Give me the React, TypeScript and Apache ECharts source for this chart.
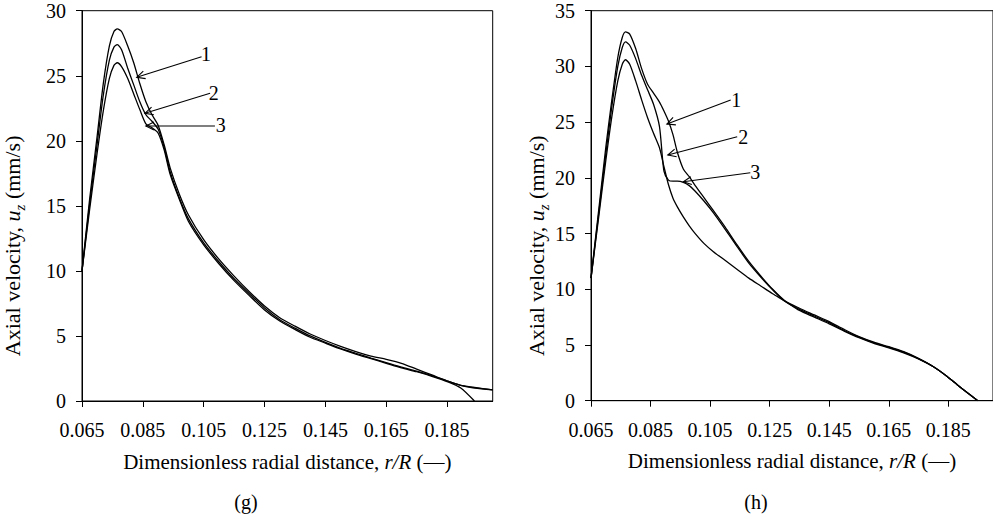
import React, { useEffect, useRef } from "react";
import * as echarts from "echarts";

// ---------- data ----------
const xTickValues = [0.065, 0.085, 0.105, 0.125, 0.145, 0.165, 0.185];

// panel (g)
const rG = [0.065, 0.0675, 0.07, 0.072, 0.074, 0.0755, 0.0766, 0.078, 0.08, 0.082, 0.084, 0.086, 0.088, 0.09, 0.092, 0.094, 0.097, 0.1, 0.105, 0.11, 0.115, 0.12, 0.125, 0.13, 0.135, 0.14, 0.145, 0.15, 0.155, 0.16, 0.165, 0.17, 0.175, 0.18, 0.1855, 0.1895, 0.194, 0.2];
const g1 = [10, 15.5, 20.4, 24.4, 27.3, 28.4, 28.6, 28.4, 27.3, 26.0, 24.4, 23.0, 22.0, 21.2, 19.7, 17.9, 15.9, 14.3, 12.4, 10.9, 9.6, 8.4, 7.3, 6.4, 5.75, 5.15, 4.65, 4.2, 3.8, 3.45, 3.2, 2.9, 2.45, 2.0, 1.5, 1.2, 1.05, 0.85];
const g2 = [10, 15.1, 19.8, 23.5, 26.2, 27.2, 27.4, 27.0, 25.6, 24.3, 23.0, 22.0, 21.5, 20.9, 19.5, 17.6, 15.6, 14.0, 12.15, 10.7, 9.4, 8.25, 7.15, 6.25, 5.6, 5.0, 4.5, 4.05, 3.67, 3.3, 2.95, 2.6, 2.3, 1.95, 1.5, 1.2, 1.0, 0.85];
const g3 = [10, 14.7, 19.1, 22.3, 24.8, 25.8, 26.0, 25.7, 24.8, 23.6, 22.4, 21.3, 21.0, 20.6, 19.3, 17.4, 15.5, 13.8, 12.0, 10.55, 9.25, 8.1, 7.0, 6.15, 5.5, 4.9, 4.45, 4.0, 3.6, 3.25, 2.9, 2.55, 2.25, 1.9, 1.45, 1.0, 0, null];

// panel (h)
const rH = [0.065, 0.0675, 0.07, 0.072, 0.074, 0.0755, 0.0766, 0.078, 0.08, 0.082, 0.084, 0.086, 0.088, 0.0895, 0.091, 0.0925, 0.094, 0.096, 0.098, 0.1, 0.103, 0.106, 0.11, 0.114, 0.118, 0.122, 0.126, 0.13, 0.135, 0.14, 0.145, 0.15, 0.155, 0.16, 0.165, 0.17, 0.175, 0.18, 0.1845, 0.1888, 0.1949];
const h1 = [11, 16.9, 22.8, 27.0, 30.8, 32.6, 33.1, 32.9, 31.6, 29.8, 28.4, 27.6, 26.8, 26.0, 25.1, 23.9, 22.3, 20.8, 20.1, 19.3, 18.2, 17.1, 15.6, 14.0, 12.5, 11.2, 10.0, 9.0, 8.3, 7.7, 7.1, 6.4, 5.75, 5.25, 4.85, 4.4, 3.8, 3.05, 2.2, 1.25, 0];
const h2 = [11, 16.6, 22.2, 26.4, 30.0, 31.7, 32.2, 31.9, 30.7, 29.2, 27.9, 26.6, 24.6, 20.6, 19.8, 19.7, 19.7, 19.6, 19.3, 18.8, 17.9, 16.9, 15.4, 13.85, 12.35, 11.1, 9.95, 8.95, 8.2, 7.6, 7.0, 6.3, 5.7, 5.2, 4.8, 4.35, 3.75, 3.05, 2.2, 1.25, 0];
const h3 = [11, 16.3, 21.6, 25.5, 28.7, 30.2, 30.6, 30.2, 28.7, 27.0, 25.4, 24.0, 22.7, 21.0, 19.4, 18.2, 17.4, 16.5, 15.7, 15.0, 14.1, 13.4, 12.6, 11.8, 11.0, 10.3, 9.6, 8.95, 8.1, 7.5, 6.9, 6.25, 5.65, 5.15, 4.75, 4.3, 3.75, 3.05, 2.2, 1.25, 0];

// annotation arrows: [tailX, tailY, headX, headY] in data units
const arrowsG = [
  [0.1043, 26.46, 0.083, 24.88],
  [0.1071, 23.65, 0.0857, 22.11],
  [0.1087, 21.14, 0.086, 21.14],
];
const labelNames = ["1", "2", "3"];
const labelPosG = [
  [0.1058, 26.7],
  [0.1083, 23.7],
  [0.1106, 21.18],
];
const arrowsH = [
  [0.1119, 26.99, 0.0905, 24.83],
  [0.1141, 23.69, 0.0908, 22.05],
  [0.1185, 20.46, 0.096, 19.65],
];
const labelPosH = [
  [0.1138, 26.99],
  [0.1161, 23.67],
  [0.1202, 20.48],
];

const panelLetters = ["(g)", "(h)"];

// ---------- styling ----------
const FONT = "'Liberation Serif', 'Times New Roman', serif";
const BLACK = "#000";

function pairs(xs: number[], ys: (number | null)[]) {
  const out: number[][] = [];
  xs.forEach((x, i) => {
    const y = ys[i];
    if (y !== null && y !== undefined) out.push([x, y]);
  });
  return out;
}

function xAxisFor(gridIndex: number) {
  return {
    type: "value",
    gridIndex,
    min: 0.065,
    max: 0.2,
    interval: 0.02,
    name: "Dimensionless radial distance, {i|r/R} (—)",
    nameLocation: "middle",
    nameGap: 50,
    nameTextStyle: {
      fontFamily: FONT,
      fontSize: 21,
      color: BLACK,
      rich: { i: { fontFamily: FONT, fontSize: 21, fontStyle: "italic", color: BLACK } },
    },
    axisLine: { show: true, lineStyle: { color: BLACK, width: 1 } },
    axisTick: { show: true, length: 6, lineStyle: { color: BLACK }, customValues: xTickValues },
    axisLabel: {
      margin: 19,
      fontFamily: FONT,
      fontSize: 20,
      color: BLACK,
      customValues: xTickValues,
      formatter: (v: number) => v.toFixed(3),
    },
    splitLine: { show: false },
  };
}

function yAxisFor(gridIndex: number, max: number) {
  return {
    type: "value",
    gridIndex,
    min: 0,
    max,
    interval: 5,
    name: "Axial velocity, {i|u}{s|z} (mm/s)",
    nameLocation: "middle",
    nameGap: gridIndex === 0 ? 55 : 40,
    nameTextStyle: {
      fontFamily: FONT,
      fontSize: 22,
      color: BLACK,
      padding: [0, 80, 0, 0],
      rich: {
        i: { fontFamily: FONT, fontSize: 22, fontStyle: "italic", color: BLACK },
        s: { fontFamily: FONT, fontSize: 15, fontStyle: "italic", color: BLACK, padding: [14, 0, 0, 0] },
      },
    },
    axisLine: { show: true, lineStyle: { color: BLACK, width: 1 } },
    axisTick: { show: true, length: 6, lineStyle: { color: BLACK } },
    axisLabel: { margin: 16, fontFamily: FONT, fontSize: 20, color: BLACK },
    splitLine: { show: false },
  };
}

function lineSeries(name: string, idx: number, data: number[][]) {
  return {
    name,
    type: "line",
    xAxisIndex: idx,
    yAxisIndex: idx,
    data,
    showSymbol: false,
    symbol: "none",
    smooth: 0.25,
    lineStyle: { color: BLACK, width: 1.3 },
    z: 3,
  };
}

export default function App() {
  const ref = useRef<HTMLDivElement>(null);

  useEffect(() => {
    if (!ref.current) return;
    const chart = echarts.init(ref.current, null, { renderer: "svg" });

    const option: any = {
      animation: false,
      backgroundColor: "#fff",
      grid: [
        { left: 82, top: 10.7, width: 410.7, height: 390.3, show: true, borderColor: BLACK, borderWidth: 1, backgroundColor: "transparent" },
        { left: 591, top: 10.7, width: 409.7, height: 390, show: true, borderColor: BLACK, borderWidth: 1, backgroundColor: "transparent" },
      ],
      xAxis: [xAxisFor(0), xAxisFor(1)],
      yAxis: [yAxisFor(0, 30), yAxisFor(1, 35)],
      series: [
        lineSeries("g1", 0, pairs(rG, g1)),
        lineSeries("g2", 0, pairs(rG, g2)),
        lineSeries("g3", 0, pairs(rG, g3)),
        lineSeries("h1", 1, pairs(rH, h1)),
        lineSeries("h2", 1, pairs(rH, h2)),
        lineSeries("h3", 1, pairs(rH, h3)),
      ],
    };
    chart.setOption(option);

    const graphics: any[] = [];
    const addArrows = (gridIndex: number, arrows: number[][], labels: number[][]) => {
      arrows.forEach((a, k) => {
        const t = chart.convertToPixel({ gridIndex } as any, [a[0], a[1]]) as number[];
        const h = chart.convertToPixel({ gridIndex } as any, [a[2], a[3]]) as number[];
        const dx = t[0] - h[0];
        const dy = t[1] - h[1];
        const len = Math.hypot(dx, dy) || 1;
        const ux = dx / len;
        const uy = dy / len;
        const ang = (26 * Math.PI) / 180;
        const al = 9;
        const rot = (s: number) => [
          h[0] + al * (ux * Math.cos(s * ang) - uy * Math.sin(s * ang)),
          h[1] + al * (ux * Math.sin(s * ang) + uy * Math.cos(s * ang)),
        ];
        graphics.push({
          type: "line",
          shape: { x1: t[0], y1: t[1], x2: h[0], y2: h[1] },
          style: { stroke: BLACK, lineWidth: 1.1 },
          z: 10,
        });
        graphics.push({
          type: "polyline",
          shape: { points: [rot(1), h, rot(-1)] },
          style: { stroke: BLACK, lineWidth: 1.1, fill: null },
          z: 10,
        });
        const lp = chart.convertToPixel({ gridIndex } as any, labels[k]) as number[];
        graphics.push({
          type: "text",
          x: lp[0],
          y: lp[1],
          style: { text: labelNames[k], fontFamily: FONT, fontSize: 20, fill: BLACK, align: "center", verticalAlign: "middle" },
          z: 10,
        });
      });
    };
    addArrows(0, arrowsG, labelPosG);
    addArrows(1, arrowsH, labelPosH);

    graphics.push({
      type: "text",
      x: 246,
      y: 502,
      style: { text: panelLetters[0], fontFamily: FONT, fontSize: 20, fill: BLACK, align: "center", verticalAlign: "middle" },
    });
    graphics.push({
      type: "text",
      x: 756,
      y: 502,
      style: { text: panelLetters[1], fontFamily: FONT, fontSize: 20, fill: BLACK, align: "center", verticalAlign: "middle" },
    });

    chart.setOption({ graphic: graphics });

    return () => chart.dispose();
  }, []);

  return (
    <div
      ref={ref}
      style={{ position: "fixed", left: 0, top: 0, width: 993, height: 518, background: "#fff" }}
    />
  );
}
